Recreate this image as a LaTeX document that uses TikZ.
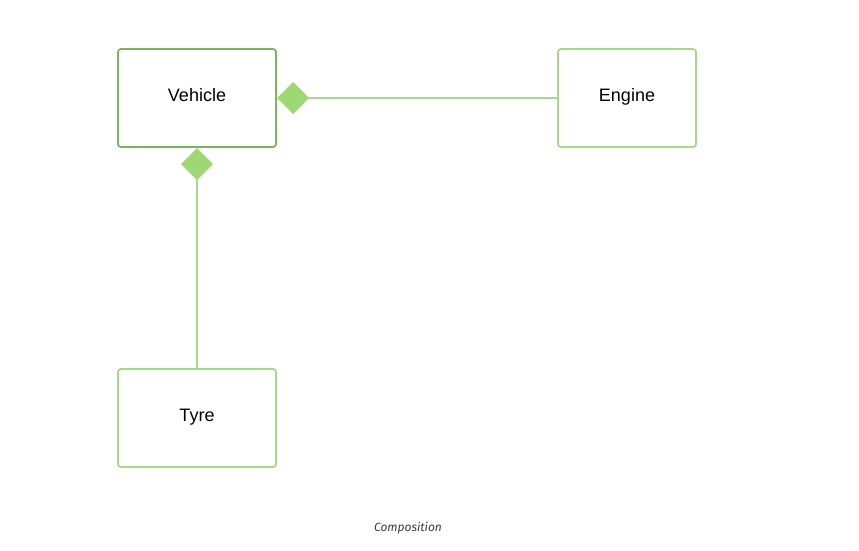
\documentclass[tikz,border=0pt]{standalone}
\usepackage{fontspec}
\setmainfont{Liberation Sans}
\newfontfamily\capfont{Fira Sans}
\usetikzlibrary{shapes.geometric}
\definecolor{darkgrn}{HTML}{7DB35D}
\definecolor{lightgrn}{HTML}{A6D98A}
\definecolor{diafill}{HTML}{9ED874}
\definecolor{capgray}{HTML}{3A3A3A}
\tikzset{
  cls/.style={draw=lightgrn, line width=1.8pt, rounded corners=3pt, minimum width=158pt, minimum height=98pt, inner sep=0pt, text height=12pt, text depth=5pt, font=\fontsize{18}{21}\selectfont},
  dia/.style={diamond, fill=diafill, draw=none, minimum width=32pt, minimum height=32pt, inner sep=0pt},
  conn/.style={draw=lightgrn, line width=1.8pt},
}
\begin{document}
\begin{tikzpicture}[x=1pt,y=-1pt]
\useasboundingbox (0,0) rectangle (859,550);
\node[cls, draw=darkgrn] (veh) at (197,98) {Vehicle};
\node[cls, minimum width=138pt] (eng) at (627,98) {Engine};
\node[cls] (tyre) at (197,418) {Tyre};
\node[dia, anchor=west] (d1) at (veh.east) {};
\node[dia, anchor=north] (d2) at (veh.south) {};
\draw[conn] (d1.east) -- (eng.west);
\draw[conn] (d2.south) -- (tyre.north);
\node[font=\capfont\itshape\fontsize{12}{14}\selectfont, text=capgray] (cap) at (408,528) {Composition};
\end{tikzpicture}
\end{document}
